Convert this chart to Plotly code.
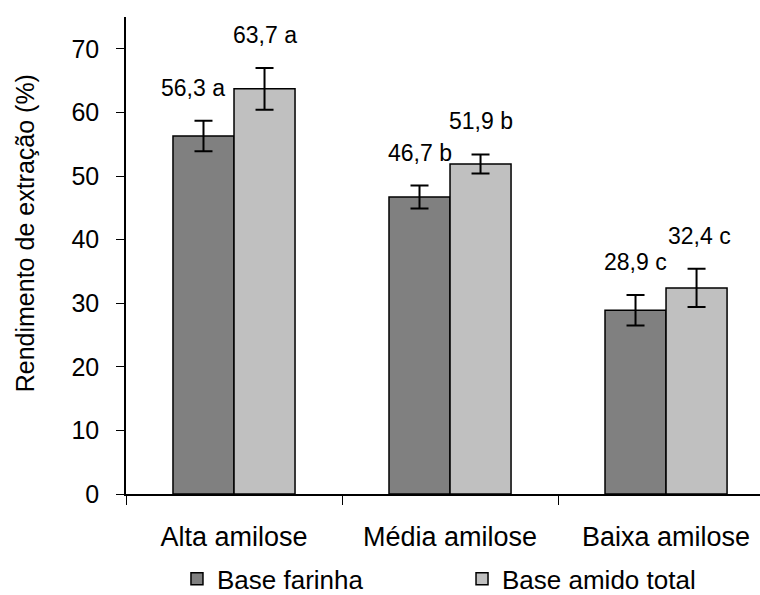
import plotly.graph_objects as go

categories = ["Alta amilose", "Média amilose", "Baixa amilose"]
farinha = [56.3, 46.7, 28.9]
farinha_err = [2.4, 1.8, 2.4]
farinha_letters = ["a", "b", "c"]
amido = [63.7, 51.9, 32.4]
amido_err = [3.3, 1.5, 3.0]
amido_letters = ["a", "b", "c"]
y_ticks = [0, 10, 20, 30, 40, 50, 60, 70]

FONT = "Liberation Sans, Arial, sans-serif"

fig = go.Figure()
fig.add_trace(go.Bar(
    x=categories, y=farinha, name="Base farinha",
    marker=dict(color="#808080", line=dict(color="black", width=1.5)),
    error_y=dict(type="data", array=farinha_err, color="black", thickness=2, width=9),
    legend="legend",
))
fig.add_trace(go.Bar(
    x=categories, y=amido, name="Base amido total",
    marker=dict(color="#c0c0c0", line=dict(color="black", width=1.5)),
    error_y=dict(type="data", array=amido_err, color="black", thickness=2, width=9),
    legend="legend2",
))

def fmt(v):
    return f"{v:.1f}".replace(".", ",")

for i, c in enumerate(categories):
    fig.add_annotation(x=c, y=farinha[i] + farinha_err[i], text=f"{fmt(farinha[i])} {farinha_letters[i]}",
                       showarrow=False, xshift=-30.5 - (11 if i == 0 else 0), yshift=33,
                       yanchor="middle", font=dict(size=23, family=FONT, color="black"))
    fig.add_annotation(x=c, y=amido[i] + amido_err[i], text=f"{fmt(amido[i])} {amido_letters[i]}",
                       showarrow=False, xshift=30.5 + (3 if i == 2 else 0), yshift=33,
                       yanchor="middle", font=dict(size=23, family=FONT, color="black"))

# y-axis title as rotated annotation
fig.add_annotation(xref="paper", yref="paper", x=-0.159, y=0.547, text="Rendimento de extração (%)",
                   textangle=-90, showarrow=False, xanchor="center", yanchor="middle",
                   font=dict(size=25, family=FONT, color="black"))

fig.update_layout(
    width=760, height=595,
    margin=dict(l=126, r=0, t=17, b=101, autoexpand=False),
    paper_bgcolor="white", plot_bgcolor="white",
    barmode="group", bargap=0.435, bargroupgap=0,
    font=dict(family=FONT, color="black", size=25),
    showlegend=True,
    legend=dict(orientation="h", x=0.0804, y=0.027, yref="container", xanchor="left", yanchor="middle",
                font=dict(size=26, family=FONT), bgcolor="rgba(0,0,0,0)", tracegroupgap=0),
    legend2=dict(orientation="h", x=0.530, y=0.027, yref="container", xanchor="left", yanchor="middle",
                 font=dict(size=26, family=FONT), bgcolor="rgba(0,0,0,0)", tracegroupgap=0),
)
fig.update_xaxes(
    range=[-0.5, 2.435], showline=True, linecolor="black", linewidth=1.5,
    ticks="outside", tickson="boundaries", ticklen=9, tickcolor="black", tickwidth=1,
    tickfont=dict(size=27, family=FONT), ticklabelstandoff=18, showgrid=False, fixedrange=True,
    automargin=False,
)
fig.update_yaxes(
    range=[0, 75], tickvals=y_ticks, showline=True, linecolor="black", linewidth=1.5,
    ticks="outside", tickfont=dict(size=25, family=FONT), ticklen=8, tickcolor="black", tickwidth=1,
    ticklabelstandoff=12, showgrid=False, zeroline=False,
    automargin=False,
)

fig.write_html("out.html")
